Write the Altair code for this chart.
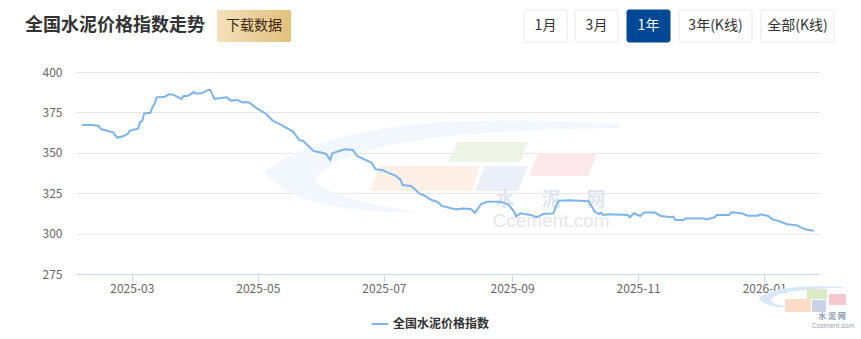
import altair as alt
import pandas as pd

# ---------------- data ----------------
SERIES = "全国水泥价格指数"
TITLE = "全国水泥价格指数走势"
DOWNLOAD = "下载数据"
BUTTONS = ["1月", "3月", "1年", "3年(K线)", "全部(K线)"]
ACTIVE_BUTTON = "1年"

# day offsets counted from 2025-01-01
day_offsets = [35, 40, 43, 44, 47, 50, 52, 55, 57, 58, 62, 63, 64, 65, 68, 69, 70, 71, 75, 77,
               79, 83, 84, 86, 89, 90, 93, 96, 97, 99, 102, 105, 107, 110, 113, 114, 116, 119, 124, 127,
               131, 134, 137, 140, 142, 147, 150, 153, 155, 156, 162, 166, 168, 173, 175, 177, 180, 183, 187, 189,
               190, 194, 196, 198, 201, 204, 207, 209, 213, 216, 219, 223, 225, 228, 231, 237, 241, 244, 245, 247,
               252, 255, 258, 263, 265, 266, 271, 280, 283, 285, 286, 287, 290, 299, 300, 302, 305, 307, 312, 315,
               320, 321, 322, 326, 327, 328, 336, 337, 341, 342, 348, 349, 354, 357, 362, 363, 367, 369, 372, 376,
               381, 383, 386, 389]
index_values = [367.2, 367.2, 366.6, 364.7, 363.7, 362.7, 359.3, 360.4, 361.6, 363.7, 364.9, 369.1, 369.5, 374.4, 374.8, 378.2, 380.2, 384.3, 384.7, 386.2,
                386.0, 383.3, 385.1, 385.1, 387.6, 386.6, 387.0, 388.9, 388.9, 383.3, 383.9, 384.3, 382.3, 382.7, 381.0, 381.4, 381.0, 377.9, 374.0, 370.1,
                367.4, 365.2, 363.1, 357.9, 357.3, 351.0, 350.3, 349.3, 345.5, 349.7, 352.2, 351.7, 348.0, 345.1, 343.9, 339.8, 339.4, 337.7, 335.6, 333.2,
                330.1, 329.5, 327.4, 324.9, 323.3, 320.8, 319.6, 317.1, 315.8, 315.0, 315.6, 315.2, 312.9, 318.3, 319.7, 319.7, 318.3, 313.6, 310.5, 312.6,
                311.5, 310.1, 312.1, 312.5, 319.5, 320.3, 320.6, 320.0, 313.6, 312.1, 313.0, 311.5, 311.9, 311.5, 310.1, 312.6, 310.9, 313.0, 313.0, 310.9,
                310.1, 310.5, 308.4, 308.4, 309.5, 309.3, 309.3, 308.8, 310.1, 311.5, 311.5, 313.2, 312.6, 311.1, 311.1, 311.9, 310.9, 308.8, 307.8, 305.8,
                305.1, 303.5, 302.4, 301.8]
y_ticks = [275, 300, 325, 350, 375, 400]
x_tick_months = [(2025, 3), (2025, 5), (2025, 7), (2025, 9), (2025, 11), (2026, 1)]

df = pd.DataFrame({
    "date": pd.Timestamp("2025-01-01") + pd.to_timedelta(day_offsets, unit="D"),
    "value": index_values,
    "series": SERIES,
})

# ---------------- layout ----------------
PAD_L, PAD_T, W, H = 76, 72, 744, 202
FONT = "Noto Sans CJK SC"
one = pd.DataFrame({"k": [0]})


def rect(x0, x1, y0, y1, **kw):
    return alt.Chart(one).mark_rect(**kw).encode(
        x=alt.value(x0 - PAD_L), x2=alt.value(x1 - PAD_L),
        y=alt.value(y0 - PAD_T), y2=alt.value(y1 - PAD_T))


def text(t, x, y, **kw):
    kw.setdefault("font", FONT)
    return alt.Chart(one).mark_text(text=t, **kw).encode(
        x=alt.value(x - PAD_L), y=alt.value(y - PAD_T))


def shape(path, cx, cy, w, color):
    return alt.Chart(one).mark_point(shape=path, size=w * w, filled=True, fill=color,
                                     opacity=1, strokeWidth=0).encode(
        x=alt.value(cx - PAD_L), y=alt.value(cy - PAD_T))


SWOOSH = ("M 0.775 -0.23 Q -0.6 -0.32 -1 0.01 Q -0.85 0.22 -0.225 0.21 "
          "Q -0.72 0.14 -0.75 0.04 Q -0.55 -0.2 0.775 -0.21 Z")

# big watermark
wm = [
    shape(SWOOSH, 465, 170, 400, "#f1f7fd"),
    shape("M -0.75 -0.25 L 1 -0.25 L 0.8 0.25 L -1 0.25 Z", 488, 152, 80, "#eef4e5"),
    shape("M -0.818 -0.227 L 1 -0.227 L 0.855 0.227 L -1 0.227 Z", 425, 178.5, 110, "#fdf1e7"),
    shape("M -0.623 -0.472 L 1 -0.472 L 0.623 0.472 L -1 0.472 Z", 501.5, 178.5, 53, "#ebeff7"),
    shape("M -0.735 -0.338 L 1 -0.338 L 0.735 0.338 L -1 0.338 Z", 563, 164.5, 68, "#fce8ea"),
    text("水", 505, 200, fontSize=19, fontWeight="bold", color="#dfe6ef"),
    text("泥", 551, 200, fontSize=19, fontWeight="bold", color="#dfe6ef"),
    text("网", 596, 200, fontSize=19, fontWeight="bold", color="#dfe6ef"),
    text("Ccement.com", 551, 221, fontSize=19, font="Liberation Sans", color="#e6e6e6"),
    # small logo bottom-right
    shape(SWOOSH, 806, 298, 95, "#d7e9f8"),
    rect(807, 827, 289, 299, color="#d9eac5"),
    rect(829, 846, 294, 305, color="#f4c8ce"),
    rect(785, 811, 299, 312, color="#fbdcc6"),
    rect(812, 826, 300, 312, color="#c9d3e8"),
    text("水 泥 网", 832, 317, fontSize=8, fontWeight="bold", color="#8a9bb5"),
    text("Ccement.com", 833, 326, fontSize=7, font="Liberation Sans", color="#9aa3ad"),
]

# ---------------- main line ----------------
line = alt.Chart(df).mark_line(strokeWidth=2, interpolate="linear").encode(
    x=alt.X("date:T",
            scale=alt.Scale(domain=[alt.DateTime(year=2025, month=2, date=2),
                                    alt.DateTime(year=2026, month=1, date=28)]),
            axis=alt.Axis(title=None,
                          values=[alt.DateTime(year=y, month=m, date=1) for y, m in x_tick_months],
                          format="%Y-%m", labelColor="#666666", labelFontSize=12, labelFont=FONT,
                          domainColor="#ccd6eb", tickColor="#ccd6eb", tickSize=8, labelPadding=1,
                          grid=False, labelFlush=False)),
    y=alt.Y("value:Q",
            scale=alt.Scale(domain=[275, 400], nice=False, zero=False),
            axis=alt.Axis(title=None, values=y_ticks, labelColor="#666666", labelFontSize=12,
                          labelFont=FONT, domain=False, ticks=False, gridColor="#e6e6e6",
                          labelPadding=14)),
    color=alt.Color("series:N",
                    scale=alt.Scale(domain=[SERIES], range=["#7cb5ec"]),
                    legend=alt.Legend(orient="none", legendX=295, legendY=243, title=None,
                                      direction="horizontal", symbolType="stroke",
                                      symbolStrokeWidth=2, symbolSize=256,
                                      labelFont=FONT, labelFontSize=12, labelFontWeight="bold",
                                      labelColor="#333333")),
)

# ---------------- header ----------------
gold = alt.LinearGradient(gradient="linear",
                          stops=[alt.GradientStop(color="#f3e1bb", offset=0),
                                 alt.GradientStop(color="#e2bf7d", offset=1)],
                          x1=0, x2=1, y1=0, y2=0)
header = [
    text(TITLE, 25, 26, fontSize=18, fontWeight="bold", color="#333333", align="left", baseline="middle"),
    rect(217, 291, 10, 42, fill=gold, cornerRadius=2),
    text(DOWNLOAD, 254, 26, fontSize=14, color="#3a2a10", align="center", baseline="middle"),
]
btn_x = [(524, 567), (575, 618), (627, 670), (679, 752), (761, 834)]
for lab, (x0, x1) in zip(BUTTONS, btn_x):
    active = lab == ACTIVE_BUTTON
    header.append(rect(x0, x1, 10, 42, fill="#004896" if active else "#ffffff",
                       stroke="#004896" if active else "#e8e8e8", strokeWidth=1, cornerRadius=2))
    header.append(text(lab, (x0 + x1) / 2, 26, fontSize=14,
                       color="#ffffff" if active else "#333333", align="center", baseline="middle"))

chart = alt.layer(*wm, line, *header).properties(
    width=W, height=H,
    autosize=alt.AutoSizeParams(type="none"),
    padding={"left": PAD_L, "top": PAD_T, "right": 861 - PAD_L - W, "bottom": 339 - PAD_T - H},
    background="#ffffff",
).configure_view(stroke=None)

chart.save("out.html", embed_options={"renderer": "svg", "actions": False})
